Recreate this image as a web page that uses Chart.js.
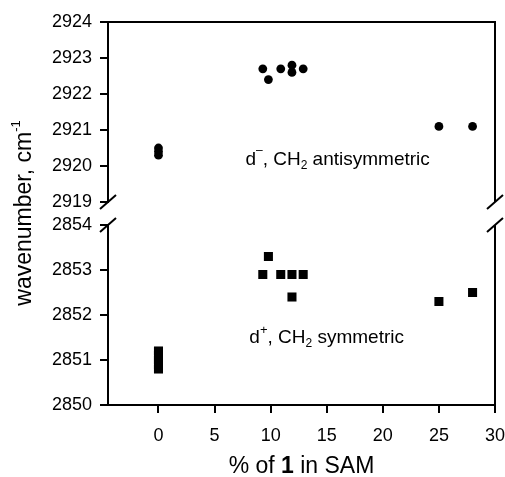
<!DOCTYPE html>
<html>
<head>
<meta charset="utf-8">
<script src="https://cdn.jsdelivr.net/npm/chart.js@4"></script>
<style>
  html, body { margin: 0; padding: 0; background: #fff; }
</style>
</head>
<body>
<canvas id="myChart" width="505" height="477"></canvas>
<script>
const xTicks = [0, 5, 10, 15, 20, 25, 30];
const topTicks = [2919, 2920, 2921, 2922, 2923, 2924];
const bottomTicks = [2850, 2851, 2852, 2853, 2854];

// d- band (CH2 antisymmetric stretch)
const antiX = [0, 0, 0, 9.3, 9.8, 10.9, 11.9, 11.9, 12.9, 25, 28];
const antiY = [2920.5, 2920.4, 2920.3, 2922.7, 2922.4, 2922.7, 2922.8, 2922.6, 2922.7, 2921.1, 2921.1];

// d+ band (CH2 symmetric stretch)
const symX = [0, 0, 0, 0, 0, 9.3, 9.8, 10.9, 11.9, 11.9, 12.9, 25, 28];
const symY = [2851.2, 2851.1, 2851.0, 2850.9, 2850.8, 2852.9, 2853.3, 2852.9, 2852.9, 2852.4, 2852.9, 2852.3, 2852.5];

const FONT = "'Liberation Sans', Arial, Helvetica, sans-serif";
Chart.defaults.font.family = FONT;
Chart.defaults.color = '#000';

function toPoints(xs, ys) {
  return xs.map((x, i) => ({ x: x, y: ys[i] }));
}

// draws a run of text pieces (normal / sup / sub / bold) one after another
function drawRich(ctx, parts, x, y, align) {
  let total = 0;
  parts.forEach(p => {
    ctx.font = (p.bold ? 'bold ' : '') + p.size + 'px ' + FONT;
    p.w = ctx.measureText(p.t).width;
    total += p.w;
  });
  let cx = align === 'center' ? x - total / 2 : x;
  parts.forEach(p => {
    ctx.font = (p.bold ? 'bold ' : '') + p.size + 'px ' + FONT;
    ctx.fillText(p.t, cx, y + (p.dy || 0));
    cx += p.w;
  });
}

function noPad(s) {
  s.paddingLeft = 0;
  s.paddingRight = 0;
  s.paddingTop = 0;
  s.paddingBottom = 0;
}

function yAxis(min, max, ticks, weight) {
  return {
    type: 'linear',
    position: 'left',
    stack: 'v',
    stackWeight: weight,
    min: min,
    max: max,
    afterBuildTicks: s => { s.ticks = ticks.map(v => ({ value: v })); },
    afterFit: s => { s.width = 108; noPad(s); },
    grid: { drawOnChartArea: false, tickLength: 8, color: '#000', lineWidth: 2 },
    border: { color: '#000', width: 2 },
    ticks: {
      color: '#000',
      font: { size: 18 },
      padding: 8,
      autoSkip: false,
      callback: v => String(v)
    }
  };
}

// frame, axis breaks, labels and titles
const decorations = {
  id: 'decorations',
  afterDraw(chart) {
    const ctx = chart.ctx;
    const area = chart.chartArea;
    const top = chart.scales.yTop;
    const bot = chart.scales.yBot;
    const x = chart.scales.x;

    ctx.save();
    ctx.strokeStyle = '#000';
    ctx.lineWidth = 2;
    ctx.beginPath();
    ctx.moveTo(area.left, area.top);
    ctx.lineTo(area.right, area.top);
    ctx.lineTo(area.right, top.bottom);
    ctx.moveTo(area.right, bot.top);
    ctx.lineTo(area.right, area.bottom);
    // break marks
    [area.left, area.right].forEach(bx => {
      [top.bottom, bot.top].forEach(by => {
        ctx.moveTo(bx - 8, by + 7);
        ctx.lineTo(bx + 8, by - 7);
      });
    });
    ctx.stroke();

    ctx.fillStyle = '#000';
    ctx.textBaseline = 'middle';
    ctx.textAlign = 'left';
    drawRich(ctx, [
      { t: 'd', size: 19 },
      { t: '\u2012', size: 12, dy: -9 },
      { t: ', CH', size: 19 },
      { t: '2', size: 12, dy: 6 },
      { t: ' antisymmetric', size: 19 }
    ], x.getPixelForValue(7.75), top.getPixelForValue(2920.18));

    drawRich(ctx, [
      { t: 'd', size: 19 },
      { t: '+', size: 13, dy: -8 },
      { t: ', CH', size: 19 },
      { t: '2', size: 12, dy: 6 },
      { t: ' symmetric', size: 19 }
    ], x.getPixelForValue(8.1), bot.getPixelForValue(2851.49));

    drawRich(ctx, [
      { t: '% of ', size: 23 },
      { t: '1', size: 23, bold: true },
      { t: ' in SAM', size: 23 }
    ], (area.left + area.right) / 2, 467, 'center');

    ctx.translate(25, 213);
    ctx.rotate(-Math.PI / 2);
    drawRich(ctx, [
      { t: 'wavenumber, cm', size: 23 },
      { t: '-1', size: 13, dy: -9 }
    ], 0, 0, 'center');
    ctx.restore();
  }
};

const data = {
  datasets: [{
    label: 'd-',
    data: toPoints(antiX, antiY),
    yAxisID: 'yTop',
    pointStyle: 'circle',
    pointRadius: 4.4,
    backgroundColor: '#000',
    borderColor: '#000',
    borderWidth: 0,
    showLine: false
  },
  {
    label: 'd+',
    data: toPoints(symX, symY),
    yAxisID: 'yBot',
    pointStyle: 'rect',
    pointRadius: 6.4,
    backgroundColor: '#000',
    borderColor: '#000',
    borderWidth: 0,
    showLine: false
  }]
};

const config = {
  type: 'scatter',
  data: data,
  plugins: [decorations],
  options: {
    responsive: false,
    animation: false,
    devicePixelRatio: 1,
    layout: { padding: { top: 22, right: 10, left: 0, bottom: 0 } },
    plugins: {
      legend: { display: false },
      tooltip: { enabled: false }
    },
    scales: {
      x: {
        type: 'linear',
        position: 'bottom',
        min: -4.5,
        max: 30,
        afterBuildTicks: s => { s.ticks = xTicks.map(v => ({ value: v })); },
        afterFit: s => { s.height = 72; noPad(s); },
        grid: { drawOnChartArea: false, tickLength: 8, color: '#000', lineWidth: 2 },
        border: { color: '#000', width: 2 },
        ticks: { color: '#000', font: { size: 18 }, padding: 12, maxRotation: 0, autoSkip: false }
      },
      yBot: yAxis(2850, 2854, bottomTicks, 180),
      yGap: {
        type: 'linear',
        position: 'left',
        stack: 'v',
        stackWeight: 23,
        min: 0,
        max: 1,
        afterFit: s => { s.width = 108; noPad(s); },
        grid: { display: false },
        border: { display: false },
        ticks: { display: false }
      },
      yTop: yAxis(2919, 2924, topTicks, 180)
    }
  }
};

const myChart = new Chart(document.getElementById('myChart'), config);
</script>
</body>
</html>
